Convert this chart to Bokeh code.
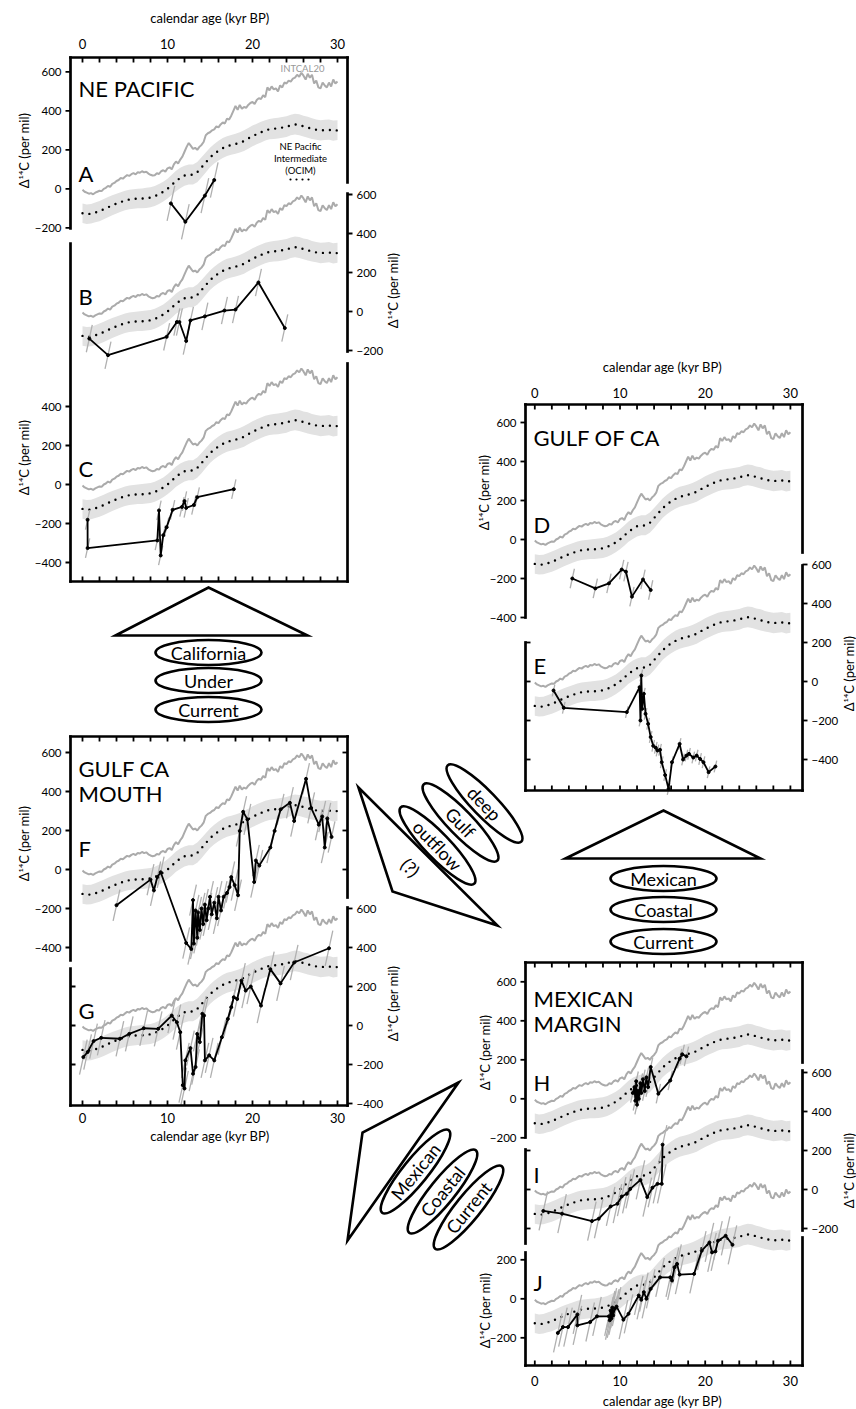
import math
from bokeh.plotting import figure
from bokeh.models import Range1d
from bokeh.core.properties import value
from bokeh.embed import file_html
from bokeh.resources import INLINE

W, H = 856, 1409
FONT = "Lato"

# ---------------- shared reference curves ----------------
intcal_age = [0, 0.25, 0.5, 0.75, 1, 1.25, 1.5, 1.75, 2, 2.25, 2.5, 2.75, 3, 3.25, 3.5, 3.75,
              4, 4.25, 4.5, 4.75, 5, 5.25, 5.5, 5.75, 6, 6.25, 6.5, 6.75, 7, 7.25, 7.5, 7.75,
              8, 8.25, 8.5, 8.75, 9, 9.25, 9.5, 9.75, 10, 10.25, 10.5, 10.75, 11, 11.25, 11.5, 11.75,
              12, 12.25, 12.5, 12.75, 13, 13.25, 13.5, 13.75, 14, 14.25, 14.5, 14.75, 15, 15.25, 15.5, 15.75,
              16, 16.25, 16.5, 16.75, 17, 17.25, 17.5, 17.75, 18, 18.25, 18.5, 18.75, 19, 19.25, 19.5, 19.75,
              20, 20.25, 20.5, 20.75, 21, 21.25, 21.5, 21.75, 22, 22.25, 22.5, 22.75, 23, 23.25, 23.5, 23.75,
              24, 24.25, 24.5, 24.75, 25, 25.25, 25.5, 25.75, 26, 26.25, 26.5, 26.75, 27, 27.25, 27.5, 27.75,
              28, 28.25, 28.5, 28.75, 29, 29.25, 29.5, 29.75, 30]
intcal_d14c = [-5, -15, -20, -25, -22, -28, -20, -15, -10, -12, 0, 5, 15, 10, 25, 30,
               40, 45, 55, 52, 62, 70, 66, 75, 80, 74, 85, 82, 90, 84, 88, 78,
               72, 68, 70, 80, 76, 90, 95, 88, 105, 110, 100, 125, 140, 130, 150, 165,
               190, 215, 235, 220, 205, 210, 200, 215, 225, 240, 275, 285, 290, 300, 305, 320,
               315, 330, 340, 335, 360, 355, 375, 400, 425, 405, 430, 410, 420, 415, 430, 440,
               445, 435, 455, 465, 460, 480, 470, 520, 505, 525, 510, 515, 500, 530, 520, 545,
               540, 555, 550, 565, 570, 585, 575, 595, 580, 560, 590, 570, 585, 540, 555, 520,
               515, 545, 530, 520, 545, 525, 560, 540, 550]

ocim_age = [0, 0.5, 1, 1.5, 2, 2.5, 3, 3.5, 4, 4.5, 5, 5.5, 6, 6.5, 7, 7.5, 8, 8.5, 9, 9.5,
            10, 10.5, 11, 11.5, 12, 12.5, 13, 13.5, 14, 14.5, 15, 15.5, 16, 16.5, 17, 17.5, 18, 18.5, 19, 19.5,
            20, 20.5, 21, 21.5, 22, 22.5, 23, 23.5, 24, 24.5, 25, 25.5, 26, 26.5, 27, 27.5, 28, 28.5, 29, 29.5, 30]
ocim_d14c = [-125, -130, -128, -122, -115, -105, -95, -85, -76, -68, -60, -55, -52, -50, -50, -48, -45, -38, -28, -15,
             0, 20, 40, 55, 68, 72, 72, 85, 110, 135, 160, 180, 195, 208, 218, 225, 230, 236, 245, 258,
             270, 280, 290, 300, 305, 308, 310, 314, 318, 326, 330, 327, 320, 314, 308, 303, 300, 301, 303, 297, 300]
ocim_hi = [-75, -80, -78, -70, -62, -52, -42, -33, -25, -18, -10, -5, -2, 0, 2, 5, 8, 14, 24, 36,
           52, 72, 92, 108, 118, 124, 125, 138, 162, 186, 210, 230, 246, 260, 270, 276, 282, 290, 300, 312,
           324, 334, 344, 352, 358, 362, 364, 368, 372, 380, 385, 382, 374, 370, 362, 356, 352, 354, 356, 350, 352]
ocim_lo = [-175, -180, -178, -172, -166, -156, -146, -136, -127, -118, -110, -105, -102, -100, -100, -98, -95, -88, -78, -65,
           -50, -32, -12, 3, 16, 22, 22, 34, 58, 84, 110, 130, 145, 158, 168, 175, 180, 186, 194, 206,
           218, 228, 238, 248, 254, 256, 258, 262, 266, 274, 278, 274, 268, 262, 256, 252, 248, 250, 252, 246, 250]

# ---------------- site records (calendar age kyr BP, D14C per mil) ----------------
A_age = [10.4, 12.1, 14.4, 15.5]
A_d14c = [-75, -169, -35, 45]

B_age = [0.8, 3.0, 9.9, 11.1, 11.4, 12.2, 12.7, 14.4, 16.7, 18.0, 20.7, 23.8]
B_d14c = [-139, -224, -130, -54, -54, -151, -46, -25, 5, 10, 149, -85]

C_age = [0.6, 0.6, 8.8, 9.0, 9.2, 9.5, 9.9, 10.6, 11.7, 12.0, 12.2, 13.1, 13.5, 17.8]
C_d14c = [-181, -326, -287, -133, -364, -260, -219, -130, -115, -85, -120, -105, -65, -24]

D_age = [4.4, 7.1, 8.7, 10.2, 10.7, 11.4, 12.7, 13.6]
D_d14c = [-200, -251, -225, -154, -165, -293, -205, -259]

E_age = [2.2, 3.4, 10.8, 12.3, 12.4, 12.5, 12.6, 12.8, 13.0, 13.3, 13.6, 13.9, 14.2, 14.4, 14.7, 14.9,
         15.3, 15.7, 16.1, 17.0, 17.4, 17.8, 18.1, 18.6, 19.0, 19.4, 19.8, 20.4, 21.2]
E_d14c = [-46, -135, -157, -29, -200, 31, -140, -63, -166, -217, -285, -330, -340, -354, -350, -414,
          -480, -551, -414, -320, -400, -380, -371, -390, -380, -397, -414, -465, -436]

F_age = [4.0, 8.0, 8.4, 8.8, 9.2, 12.2, 12.8, 13.0, 13.1, 13.3, 13.5, 13.6, 13.8, 14.0, 14.2, 14.4,
         14.6, 14.8, 15.0, 15.2, 15.5, 15.8, 16.0, 16.3, 16.6, 17.0, 17.3, 17.5, 17.9, 18.3, 18.5, 18.9,
         19.4, 20.2, 20.4, 20.8, 22.1, 22.6, 23.3, 24.4, 24.9, 26.3, 26.9, 27.8, 28.2, 28.5, 28.8, 29.3]
F_d14c = [-183, -52, -107, -39, -14, -377, -408, -157, -380, -210, -350, -220, -310, -200, -280, -180,
          -260, -200, -140, -230, -170, -250, -140, -210, -140, -120, -90, -39, -80, -132, 198, 296,
          257, -64, 46, 20, 113, 198, 308, 342, 249, 465, 316, 230, 272, 113, 262, 167]

G_age = [0.1, 0.6, 1.3, 2.2, 4.4, 5.5, 7.2, 8.9, 10.5, 11.1, 11.5, 11.8, 12.0, 12.1, 12.7, 13.0,
         13.3, 13.5, 13.8, 14.1, 14.3, 14.4, 14.9, 15.5, 16.4, 17.1, 17.5, 17.8, 18.2, 18.7, 19.2, 19.8,
         21.0, 22.1, 23.3, 24.9, 29.0]
G_d14c = [-162, -136, -80, -63, -68, -43, -14, -17, 51, 17, -34, -306, -323, -179, -116, -247,
          -213, -43, -85, 60, 51, -179, -153, -179, -60, 34, 94, 145, 136, 230, 179, 200,
          102, 289, 216, 323, 396]

H_age = [11.5, 11.7, 11.8, 11.9, 12.0, 12.1, 12.2, 12.4, 12.5, 12.7, 12.9, 13.1, 13.3, 13.6, 14.5, 15.9, 17.0, 17.3, 17.8]
H_d14c = [30, 60, -10, 90, -30, 40, 0, 80, 30, 100, 40, 110, 60, 163, 26, 94, 206, 228, 218]

I_age = [1.0, 3.2, 6.7, 7.5, 8.9, 9.7, 10.2, 10.8, 11.2, 12.4, 13.2, 13.8, 14.4, 14.9, 15.0]
I_d14c = [-110, -124, -162, -150, -87, -73, -36, -22, 3, 49, -39, 9, 29, 29, 230]

J_age = [2.7, 3.3, 3.9, 5.0, 5.0, 6.5, 7.3, 8.7, 8.8, 8.9, 9.0, 9.1, 9.2, 9.4, 9.6, 10.4, 11.0, 12.2,
         12.5, 12.8, 13.1, 13.6, 14.7, 15.9, 16.1, 16.4, 16.7, 17.0, 18.7, 19.6, 20.5, 20.8, 21.2, 21.5, 22.4, 23.2]
J_d14c = [-175, -145, -145, -80, -136, -119, -90, -90, -110, -60, -100, -45, -85, -50, -40, -107, -77, 17,
          -5, 34, 0, 51, 110, 110, 94, 162, 179, 124, 128, 247, 289, 238, 243, 298, 323, 277]

# half-width of the calendar-age uncertainty (kyr) drawn as slanted grey bars
age_err = {"A": 0.45, "B": 0.35, "C": 0.25, "D": 0.25, "E": 0.15,
           "F": 0.4, "G": 0.45, "H": 0.25, "I": 0.5, "J": 0.5}
ERR_SLOPE = 200.0  # per mil per kyr

x_tick_vals = [0, 2, 4, 6, 8, 10, 12, 14, 16, 18, 20, 22, 24, 26, 28, 30]
x_label_vals = [0, 10, 20, 30]
x_title = "calendar age (kyr BP)"
y_title = "\u0394\u00b9\u2074C (per mil)"

# ---------------- layout (pixel geometry) ----------------
COLX0 = {"L": 82.0, "R": 534.3}       # px of age 0
COLSX = {"L": 8.5, "R": 8.52}         # px per kyr
SY = 0.195                            # px per per-mil
panel_zero = {"A": 188.3, "B": 311.0, "C": 484.0, "D": 539.0, "E": 681.0,
              "F": 869.0, "G": 1025.0, "H": 1098.3, "I": 1189.0, "J": 1298.3}
panel_col = {"A": "L", "B": "L", "C": "L", "F": "L", "G": "L",
             "D": "R", "E": "R", "H": "R", "I": "R", "J": "R"}
records = {"A": (A_age, A_d14c), "B": (B_age, B_d14c), "C": (C_age, C_d14c),
           "D": (D_age, D_d14c), "E": (E_age, E_d14c), "F": (F_age, F_d14c),
           "G": (G_age, G_d14c), "H": (H_age, H_d14c), "I": (I_age, I_d14c), "J": (J_age, J_d14c)}

p = figure(width=W, height=H, x_range=Range1d(0, W), y_range=Range1d(H, 0),
           output_backend="svg", toolbar_location=None, min_border=0,
           x_axis_location=None, y_axis_location=None, outline_line_color=None)
p.grid.visible = False
p.background_fill_color = "white"
p.border_fill_color = "white"

p.extra_x_ranges = {k: Range1d(-COLX0[k] / COLSX[k], (W - COLX0[k]) / COLSX[k]) for k in COLX0}
p.extra_y_ranges = {k: Range1d(-(H - z) / SY, z / SY) for k, z in panel_zero.items()}

GREY = "#ababab"
BAND = "#e2e2e2"

for k, (ages, vals) in records.items():
    col = panel_col[k]
    kw = dict(x_range_name=col, y_range_name=k)
    p.varea(x=ocim_age, y1=ocim_lo, y2=ocim_hi, fill_color=BAND, **kw)
    p.line(intcal_age, intcal_d14c, line_color=GREY, line_width=2.0, **kw)
    p.line(ocim_age, ocim_d14c, line_color="black", line_width=2.4, line_dash="0 7",
           line_cap="round", **kw)
    e = age_err[k]
    p.segment(x0=[a - e for a in ages], y0=[v - e * ERR_SLOPE for v in vals],
              x1=[a + e for a in ages], y1=[v + e * ERR_SLOPE for v in vals],
              line_color="#b0b0b0", line_width=1.3, **kw)
    p.line(ages, vals, line_color="black", line_width=1.8, **kw)
    p.scatter(ages, vals, size=3, color="black", **kw)

# ---------------- axes (drawn by hand) ----------------
SPW = 2.7
spines = [
    # group 1 (A-C)
    (70, 57, 347, 57), (70, 581, 347, 581), (70, 57, 70, 228), (70, 243, 70, 581),
    (347, 57, 347, 182), (347, 193, 347, 351), (347, 363, 347, 581),
    # group 2 (D-E)
    (525, 404, 802, 404), (525, 790, 802, 790), (525, 404, 525, 617), (525, 642, 525, 790),
    (802, 404, 802, 552), (802, 565, 802, 790),
    # group 3 (F-G)
    (70, 736, 347, 736), (70, 1105, 347, 1105), (70, 736, 70, 960), (70, 968, 70, 1105),
    (347, 736, 347, 897), (347, 907, 347, 1105),
    # group 4 (H-J)
    (525, 962, 802, 962), (525, 1365, 802, 1365), (525, 962, 525, 1137), (525, 1149, 525, 1243),
    (525, 1252, 525, 1365), (802, 962, 802, 1062), (802, 1070, 802, 1230), (802, 1237, 802, 1365),
]
p.segment(x0=[s[0] for s in spines], y0=[s[1] for s in spines],
          x1=[s[2] for s in spines], y1=[s[3] for s in spines],
          line_color="black", line_width=SPW, line_cap="square")

TXT = dict(text_font=value(FONT), text_color="black")


def fmt(v):
    return str(v) if v >= 0 else "\u2212" + str(-v)


def xaxis(col, ypx, direction, labels_y=None, title_y=None):
    p.segment(x0=x_tick_vals, x1=x_tick_vals, y0=[ypx] * len(x_tick_vals),
              y1=[ypx + direction * 5] * len(x_tick_vals), line_color="black",
              line_width=1.8, x_range_name=col)
    if labels_y is not None:
        p.text(x=x_label_vals, y=[labels_y] * 4, text=[str(v) for v in x_label_vals],
               text_font_size="13px", text_align="center", text_baseline="middle",
               x_range_name=col, **TXT)
    if title_y is not None:
        p.text(x=[15.0], y=[title_y], text=[x_title], text_font_size="13px",
               text_align="center", text_baseline="middle", x_range_name=col, **TXT)


xaxis("L", 57, 1, 43, 17)
xaxis("L", 581, -1)
xaxis("R", 404, 1, 392, 366)
xaxis("R", 790, -1)
xaxis("L", 736, 1)
xaxis("L", 1105, -1, 1117, 1135)
xaxis("R", 962, 1)
xaxis("R", 1365, -1, 1380, 1400)


def yaxis(panel, xpx, vals, direction, labels=True, title_x=None, title_y=None):
    n = len(vals)
    p.segment(x0=[xpx] * n, x1=[xpx + direction * 5] * n, y0=vals, y1=vals,
              line_color="black", line_width=1.8, y_range_name=panel)
    if labels:
        p.text(x=[xpx + direction * 9] * n, y=vals, text=[fmt(v) for v in vals],
               text_font_size="11.5px", text_align="right" if direction < 0 else "left",
               text_baseline="middle", y_range_name=panel, **TXT)
    if title_x is not None:
        p.text(x=[title_x], y=[title_y], text=[y_title], text_font_size="13px",
               text_align="center", text_baseline="middle", angle=math.pi / 2, **TXT)


yaxis("A", 70, [600, 400, 200, 0, -200], -1, title_x=23, title_y=150)
yaxis("B", 347, [600, 400, 200, 0, -200], 1, title_x=392, title_y=290)
yaxis("C", 70, [400, 200, 0, -200, -400], -1, title_x=23, title_y=457)
yaxis("D", 525, [600, 400, 200, 0, -200, -400], -1, title_x=483, title_y=492)
yaxis("E", 802, [600, 400, 200, 0, -200, -400], 1, title_x=848, title_y=673)
yaxis("E", 525, [200, 0, -200, -400], 1, labels=False)
yaxis("F", 70, [600, 400, 200, 0, -200, -400], -1, title_x=23, title_y=843)
yaxis("F", 347, [600, 400, 200, 0], -1, labels=False)
yaxis("G", 347, [600, 400, 200, 0, -200, -400], 1, title_x=392, title_y=1003)
yaxis("G", 70, [200, 0, -200], 1, labels=False)
yaxis("H", 525, [600, 400, 200, 0, -200], -1, title_x=484, title_y=1052)
yaxis("I", 802, [600, 400, 200, 0, -200], 1, title_x=848, title_y=1170)
yaxis("I", 525, [200, 0, -200], 1, labels=False)
yaxis("J", 525, [200, 0, -200], -1, title_x=484, title_y=1310)

# ---------------- panel titles and letters ----------------
big = [("NE PACIFIC", 78, 88), ("A", 78, 173), ("B", 78, 296), ("C", 78, 468),
       ("GULF CA", 78, 768), ("MOUTH", 78, 793), ("F", 78, 848), ("G", 78, 1010),
       ("GULF OF CA", 533, 437), ("D", 533, 524), ("E", 533, 665),
       ("MEXICAN", 533, 998), ("MARGIN", 533, 1023), ("H", 533, 1082), ("I", 533, 1174), ("J", 533, 1282)]
p.text(x=[b[1] for b in big], y=[b[2] for b in big], text=[b[0] for b in big],
       text_font_size="22px", text_align="left", text_baseline="alphabetic", **TXT)

p.text(x=[302], y=[68], text=["INTCAL20"], text_font_size="9.5px", text_align="center",
       text_baseline="middle", text_font=value(FONT), text_color="#999999")
p.text(x=[300, 300, 300], y=[146, 158, 170], text=["NE Pacific", "Intermediate", "(OCIM)"],
       text_font_size="9.5px", text_align="center", text_baseline="middle", **TXT)
p.line([290, 311], [179, 179], line_color="black", line_width=2.2, line_dash="0 6", line_cap="round")

# ---------------- current schematics ----------------
LW = 2.6
tris = [
    [(115, 635), (208, 587), (307, 635)],
    [(565, 858), (663, 810), (760, 858)],
    [(358, 787), (392, 891), (497, 925)],
    [(458, 1082), (362, 1132), (347, 1240)],
]
for t in tris:
    p.patch([q[0] for q in t], [q[1] for q in t], fill_alpha=0, line_color="black",
            line_width=LW, line_join="miter")

ovals = [
    ("California", 208, 652, 0.0), ("Under", 208, 680, 0.0), ("Current", 208, 709, 0.0),
    ("Mexican", 663, 878, 0.0), ("Coastal", 663, 909, 0.0), ("Current", 663, 941, 0.0),
    ("deep", 484, 803, -46.0), ("Gulf", 460, 822, -46.0), ("outflow", 437, 845, -46.0),
    ("Mexican", 415, 1171, 51.0), ("Coastal", 442, 1191, 51.0), ("Current", 468, 1207, 51.0),
]
p.ellipse(x=[o[1] for o in ovals], y=[o[2] for o in ovals], width=[106] * len(ovals),
          height=[25] * len(ovals), angle=[math.radians(o[3]) for o in ovals],
          fill_alpha=0, line_color="black", line_width=LW)
p.text(x=[o[1] for o in ovals], y=[o[2] for o in ovals], text=[o[0] for o in ovals],
       angle=[math.radians(o[3]) for o in ovals], text_font_size="18px",
       text_align="center", text_baseline="middle", **TXT)
p.text(x=[410], y=[867], text=["(?)"], angle=[math.radians(-46.0)], text_font_size="18px",
       text_align="center", text_baseline="middle", **TXT)

open("out.html", "w").write(file_html(p, INLINE))
